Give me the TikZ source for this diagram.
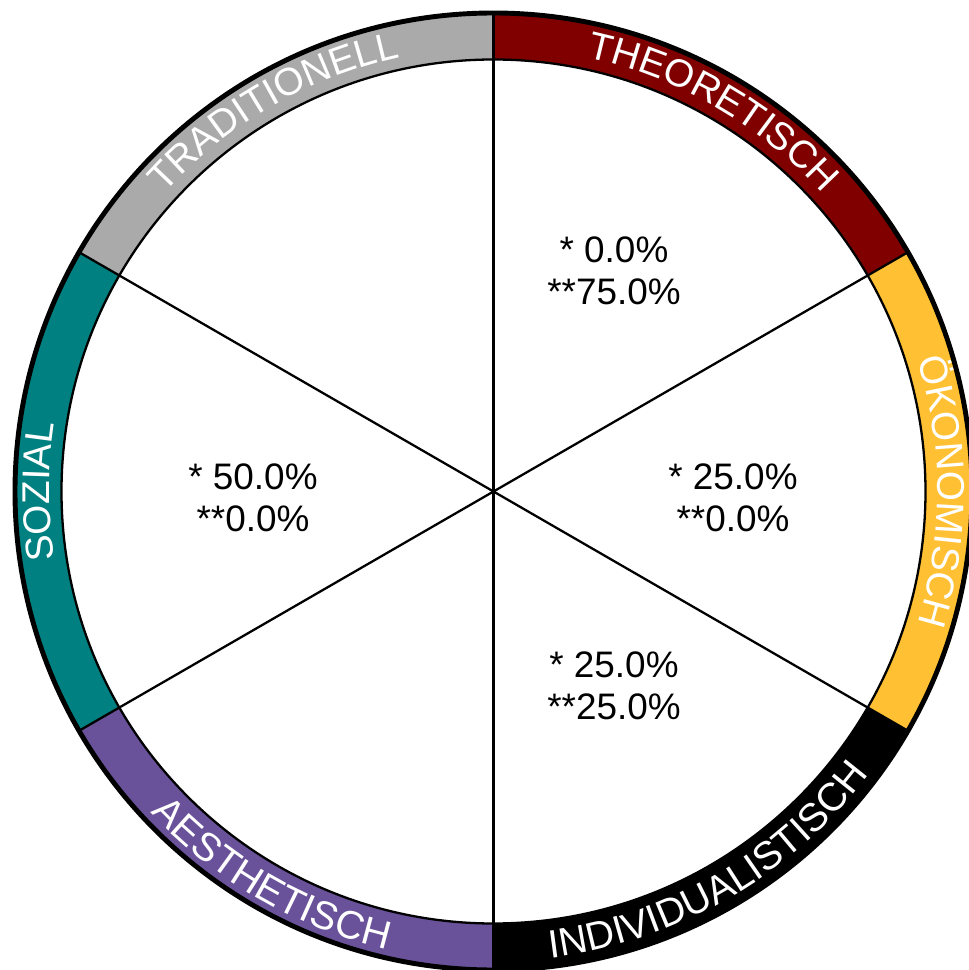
\documentclass[tikz,border=0pt]{standalone}
\usepackage{fontspec}
\setmainfont{Liberation Sans}
\usetikzlibrary{decorations.text}

\definecolor{theoretisch}{HTML}{800000}
\definecolor{oekonomisch}{HTML}{FFC133}
\definecolor{individual}{HTML}{000000}
\definecolor{aesthetisch}{HTML}{6A529A}
\definecolor{sozial}{HTML}{008080}
\definecolor{traditionell}{HTML}{AAAAAA}

\begin{document}
\begin{tikzpicture}[
     x = 0.02cm,
     y = 0.02cm,
     line join = round
    ]
   \tikzstyle{spoke}=[draw=black, line width=1.3pt]
   \tikzstyle{rim}=[draw=black, line width=2.8pt]
   \tikzstyle{ringtext}=[decorate, decoration={text along path, text color=white, text align=center}]
   \tikzstyle{share}=[align=center, font=\fontsize{21}{24}\selectfont]

   \useasboundingbox (-493.5,-478.5) rectangle (474.5,491.5);
   \coordinate (c) at (0,0);

   % ring segments
   \fill[theoretisch] (90:432) arc[start angle=90, end angle=30, radius=432]
     -- (30:478) arc[start angle=30, end angle=90, radius=478] -- cycle;
   \fill[oekonomisch] (30:432) arc[start angle=30, end angle=-30, radius=432]
     -- (-30:478) arc[start angle=-30, end angle=30, radius=478] -- cycle;
   \fill[individual] (-30:432) arc[start angle=-30, end angle=-90, radius=432]
     -- (-90:478) arc[start angle=-90, end angle=-30, radius=478] -- cycle;
   \fill[aesthetisch] (-90:432) arc[start angle=-90, end angle=-150, radius=432]
     -- (-150:478) arc[start angle=-150, end angle=-90, radius=478] -- cycle;
   \fill[sozial] (210:432) arc[start angle=210, end angle=150, radius=432]
     -- (150:478) arc[start angle=150, end angle=210, radius=478] -- cycle;
   \fill[traditionell] (150:432) arc[start angle=150, end angle=90, radius=432]
     -- (90:478) arc[start angle=90, end angle=150, radius=478] -- cycle;

   \draw[spoke] (c) -- (90:478);
   \draw[spoke] (c) -- (30:478);
   \draw[spoke] (c) -- (-30:478);
   \draw[spoke] (c) -- (-90:478);
   \draw[spoke] (c) -- (-150:478);
   \draw[spoke] (c) -- (150:478);

   \draw[spoke] (c) circle[radius=432];
   \draw[rim] (c) circle[radius=478.5];

   % labels on the ring
   \path[ringtext, decoration={text={|\fontsize{22}{26}\selectfont|THEORETISCH}}]
     (90:444) arc[start angle=90, end angle=30, radius=444];
   \path[ringtext, decoration={text={|\fontsize{22}{26}\selectfont|ÖKONOMISCH}}]
     (30:444) arc[start angle=30, end angle=-30, radius=444];
   \path[ringtext, decoration={text={|\fontsize{22.5}{26}\selectfont|INDIVIDUALISTISCH}}]
     (-90:470) arc[start angle=-90, end angle=-30, radius=470];
   \path[ringtext, decoration={text={|\fontsize{22.5}{26}\selectfont|AESTHETISCH}}]
     (-150:470) arc[start angle=-150, end angle=-90, radius=470];
   \path[ringtext, decoration={text={|\fontsize{22}{26}\selectfont|SOZIAL}}]
     (210:444) arc[start angle=210, end angle=150, radius=444];
   \path[ringtext, decoration={text={|\fontsize{22}{26}\selectfont|TRADITIONELL}}]
     (150:444) arc[start angle=150, end angle=90, radius=444];

   % shares
   \node[share] (theo) at (120.5,220.5) {* 0.0\%\\**75.0\%};
   \node[share] (oeko) at (239.5,-6) {* 25.0\%\\**0.0\%};
   \node[share] (indi) at (120.5,-194.5) {* 25.0\%\\**25.0\%};
   \node[share] (sozi) at (-240.5,-6) {* 50.0\%\\**0.0\%};
\end{tikzpicture}
\end{document}
